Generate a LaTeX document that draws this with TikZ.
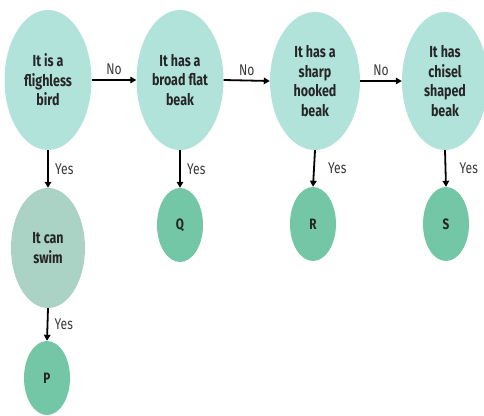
\documentclass[tikz,border=0pt]{standalone}
\usepackage{fontspec}
\setmainfont{Fira Sans}[FakeStretch=0.78]
\usetikzlibrary{shapes.geometric,arrows.meta}
\definecolor{qcol}{HTML}{B2E3DB}
\definecolor{swimcol}{HTML}{AAD3C6}
\definecolor{leafcol}{HTML}{73C6A6}
\definecolor{lblcol}{HTML}{3A3A3A}
\tikzset{
  qnode/.style={ellipse, fill=qcol, minimum width=#1, inner sep=0pt, align=center,
    font=\fontsize{16}{19.5}\selectfont\bfseries, text=black!85},
  qnode/.default=87pt,
  leaf/.style={ellipse, fill=leafcol, minimum width=46pt, minimum height=74pt, inner sep=0pt,
    font=\fontsize{15}{17}\selectfont\bfseries, text=black!85},
  conn/.style={line width=1.8pt, -{Triangle[length=6pt,width=6.5pt]}},
  lbl/.style={font=\fontsize{15.5}{17}\selectfont, text=lblcol}
}
\begin{document}
\begin{tikzpicture}[x=1pt,y=-1pt]
\useasboundingbox (0,0) rectangle (484,415);
\node[qnode, minimum height=140pt] (a) at (48,80) {It is a\\flighless\\bird};
\node[qnode, minimum height=140pt] (b) at (180,80) {It has a\\broad flat\\beak};
\node[qnode, minimum height=138pt, minimum width=90pt] (c) at (315,81) {It has a\\sharp\\hooked\\beak};
\node[qnode, minimum height=138pt, minimum width=86pt] (d) at (445,81) {It has\\chisel\\shaped\\beak};
\node[qnode, fill=swimcol, minimum width=74pt, minimum height=120pt] (e) at (48,248) {It can\\swim};
\node[leaf] (p) at (47,378) {P};
\node[leaf] (q) at (180,225) {Q};
\node[leaf] (r) at (313,224) {R};
\node[leaf] (s) at (446,224) {S};
\draw[conn] (a.east) -- node[lbl, above=1pt] {No} (b.west);
\draw[conn] (b.east) -- node[lbl, above=1pt] {No} (c.west);
\draw[conn] (c.east) -- node[lbl, above=1pt] {No} (d.west);
\draw[conn] (a.south) -- node[lbl, right=3pt] {Yes} (e.north);
\draw[conn] (e.south) -- node[lbl, right=3pt] {Yes} (p.north);
\draw[conn] (b.south) -- node[lbl, right=3pt] {Yes} (q.north);
\draw[conn] (c.south) -- node[lbl, right=10pt] {Yes} (r.north);
\draw[conn] (d.south) -- node[lbl, right=10pt] {Yes} (s.north);
\end{tikzpicture}
\end{document}
